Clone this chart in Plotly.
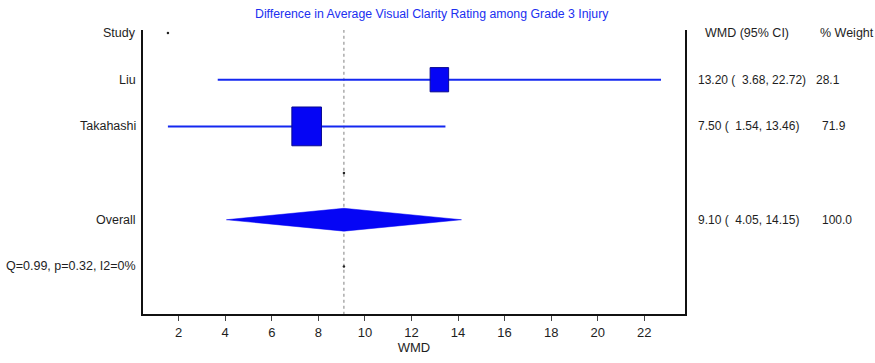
import numpy as np
import plotly.graph_objects as go

# Study-level estimates (weighted mean difference, 95% CI, % weight)
studies = ["Liu", "Takahashi"]
wmd = [13.20, 7.50]
ci_low = [3.68, 1.54]
ci_high = [22.72, 13.46]
weights = [28.1, 71.9]

# Pooled estimate
overall_wmd = 9.10
overall_low = 4.05
overall_high = 14.15
overall_weight = 100.0

heterogeneity = "Q=0.99, p=0.32, I2=0%"
x_ticks = [2, 4, 6, 8, 10, 12, 14, 16, 18, 20, 22]

# Row layout (top to bottom)
row_labels = ["Study"] + studies + ["", "Overall", heterogeneity]
study_rows = [1, 2]
overall_row = 4
het_row = 5

BLUE = "#1428f0"
FILL = "#0505f5"
FONT = "Liberation Sans, Arial, sans-serif"
TXT = "#1e1e1e"
FS = 12.5

fig = go.Figure()

# Dotted reference line at the pooled estimate
fig.add_trace(go.Scatter(
    x=[overall_wmd, overall_wmd], y=[-0.07, 6.02], mode="lines",
    line=dict(color="#808080", width=1, dash="dot"), hoverinfo="skip"))

# Confidence interval lines
for r, lo, hi in zip(study_rows, ci_low, ci_high):
    fig.add_trace(go.Scatter(
        x=[lo, hi], y=[r, r], mode="lines",
        line=dict(color=BLUE, width=2), hoverinfo="skip"))

# Weight-scaled boxes
for r, est, w in zip(study_rows, wmd, weights):
    hw = 0.075 * np.sqrt(w)
    hh = 0.049 * np.sqrt(w)
    fig.add_trace(go.Scatter(
        x=[est - hw, est + hw, est + hw, est - hw, est - hw],
        y=[r - hh, r - hh, r + hh, r + hh, r - hh],
        mode="lines", fill="toself", fillcolor=FILL,
        line=dict(color="#0a0a90", width=1), hoverinfo="skip"))

# Pooled diamond
dh = 0.245
fig.add_trace(go.Scatter(
    x=[overall_low, overall_wmd, overall_high, overall_wmd, overall_low],
    y=[overall_row, overall_row - dh, overall_row, overall_row + dh, overall_row],
    mode="lines", fill="toself", fillcolor=FILL,
    line=dict(color=FILL, width=0.5), hoverinfo="skip"))

# Small marker dots
fig.add_trace(go.Scatter(
    x=[min(ci_low), overall_wmd, overall_wmd], y=[0, 3, het_row],
    mode="markers", marker=dict(color="#222222", size=2.5), hoverinfo="skip"))

ann = []
# Left-hand labels
for i, lab in enumerate(row_labels):
    if lab:
        ann.append(dict(text=lab, xref="paper", x=0, yref="y", y=i,
                        xanchor="right", yanchor="middle", xshift=-5,
                        showarrow=False))

# Right-hand columns
ann.append(dict(text="WMD (95% CI)", xref="paper", x=1, yref="y", y=0,
                xanchor="left", yanchor="middle", xshift=18, showarrow=False))
ann.append(dict(text="% Weight", xref="paper", x=1, yref="y", y=0,
                xanchor="left", yanchor="middle", xshift=133, showarrow=False))
rows_r = study_rows + [overall_row]
ests = wmd + [overall_wmd]
los = ci_low + [overall_low]
his = ci_high + [overall_high]
ws = weights + [overall_weight]
w_shift = [129, 135, 135]
for r, e, lo, hi, w, ws_ in zip(rows_r, ests, los, his, ws, w_shift):
    ann.append(dict(text=f"{e:.2f} (  {lo:.2f}, {hi:.2f})", xref="paper", x=1,
                    yref="y", y=r, xanchor="left", yanchor="middle", xshift=11,
                    showarrow=False, font=dict(size=12)))
    ann.append(dict(text=f"{w:.1f}", xref="paper", x=1, yref="y", y=r,
                    xanchor="left", yanchor="middle", xshift=ws_,
                    showarrow=False, font=dict(size=12)))

# Title
ann.append(dict(text="Difference in Average Visual Clarity Rating among Grade 3 Injury",
                xref="paper", x=0.533, yref="paper", y=1, yshift=16,
                xanchor="center", yanchor="middle", showarrow=False,
                font=dict(size=12.3, color="#2030f0")))

fig.update_layout(
    width=875, height=363,
    margin=dict(l=143, r=190, t=30, b=45),
    paper_bgcolor="white", plot_bgcolor="white",
    showlegend=False,
    font=dict(family=FONT, size=FS, color=TXT),
    annotations=ann,
    xaxis=dict(range=[0.47, 23.75], tickvals=x_ticks, ticks="outside",
               ticklen=5, tickwidth=1, tickcolor="#444444",
               showgrid=False, zeroline=False, showline=True,
               linecolor="#111111", linewidth=2,
               title=dict(text="WMD", standoff=2, font=dict(size=13)),
               tickfont=dict(size=13)),
    yaxis=dict(range=[6.02, -0.065], showticklabels=False, ticks="",
               showgrid=False, zeroline=False, showline=True, mirror=True,
               linecolor="#111111", linewidth=2),
)

fig.write_html("out.html")
